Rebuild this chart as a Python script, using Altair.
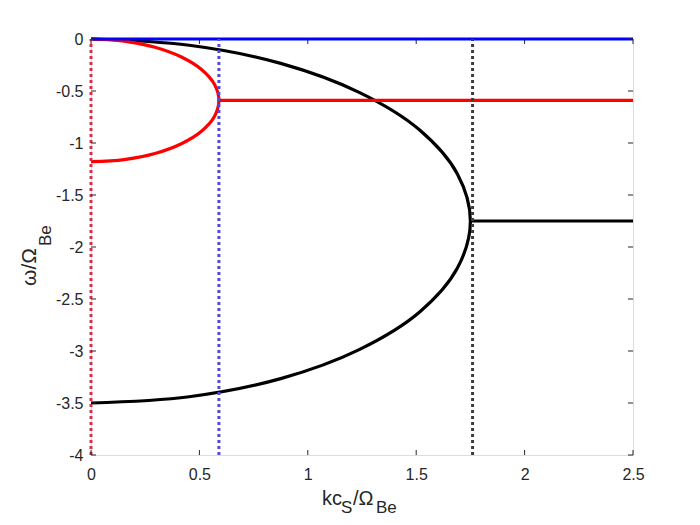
import altair as alt
import pandas as pd

# ---- data ----
# black branch: upper and lower halves joined at the turning point (k, omega)
black_k = [0, 0.453, 0.875, 1.237, 1.516, 1.690, 1.75, 1.690, 1.516, 1.237, 0.875, 0.453, 0]
black_w = [0, -0.060, -0.234, -0.513, -0.875, -1.297, -1.75, -2.203, -2.625, -2.987, -3.266, -3.440, -3.5]
black_flat_k = [1.75, 2.5]
black_flat_w = [-1.75, -1.75]

# red branch
red_k = [0, 0.153, 0.295, 0.417, 0.511, 0.570, 0.59, 0.570, 0.511, 0.417, 0.295, 0.153, 0]
red_w = [0, -0.020, -0.079, -0.173, -0.295, -0.437, -0.59, -0.743, -0.885, -1.007, -1.101, -1.160, -1.18]
red_flat_k = [0.59, 2.5]
red_flat_w = [-0.59, -0.59]

# blue branch
blue_k = [0, 2.5]
blue_w = [0, 0]

# dotted vertical markers
vline_k = [0, 0.59, 1.76]
vline_names = ["red", "blue", "black"]
vline_colors = ["#d3304c", "#5248e0", "#3c3c3c"]

x_ticks = [0, 0.5, 1, 1.5, 2, 2.5]
y_ticks = [0, -0.5, -1, -1.5, -2, -2.5, -3, -3.5, -4]

W, H = 542, 416
AX = "#262626"
FONT = "Liberation Sans"

xs = alt.Scale(domain=[0, 2.5], nice=False, zero=False)
ys = alt.Scale(domain=[-4, 0], nice=False, zero=False)
xaxis = alt.Axis(values=x_ticks, title=None, grid=False, ticks=False, domain=False,
                 labelFont=FONT, labelFontSize=16, labelColor=AX, labelPadding=11,
                 labelExpr="'' + datum.value", labelFlush=False, labelOverlap=False)
yaxis = alt.Axis(values=y_ticks, title=None, grid=False, ticks=False, domain=False,
                 labelFont=FONT, labelFontSize=16, labelColor=AX, labelPadding=8,
                 labelExpr="'' + datum.value", labelFlush=False, labelOverlap=False)

def path_df(k, w):
    return pd.DataFrame({"k": k, "w": w, "i": list(range(len(k)))})

def curve(k, w, color, interp="linear"):
    return alt.Chart(path_df(k, w)).mark_line(
        color=color, strokeWidth=3.2, interpolate=interp
    ).encode(
        x=alt.X("k:Q", scale=xs, axis=xaxis),
        y=alt.Y("w:Q", scale=ys, axis=yaxis),
        order=alt.Order("i:Q"),
    )

layers = [
    curve(black_k, black_w, "#000000", "catmull-rom"),
    curve(black_flat_k, black_flat_w, "#000000"),
    curve(red_k, red_w, "#ff0000", "catmull-rom"),
    curve(red_flat_k, red_flat_w, "#ff0000"),
    curve(blue_k, blue_w, "#0000ff"),
]

vdf = pd.DataFrame({"k": vline_k, "name": vline_names,
                    "lo": [-4] * 3, "hi": [0] * 3})
layers.append(
    alt.Chart(vdf).mark_rule(strokeWidth=3, strokeDash=[3, 3]).encode(
        x=alt.X("k:Q", scale=xs, axis=xaxis),
        y=alt.Y("lo:Q", scale=ys, axis=yaxis),
        y2="hi:Q",
        color=alt.Color("name:N", scale=alt.Scale(domain=vline_names, range=vline_colors),
                        legend=None),
    )
)

# inward ticks on all four sides (box style)
xt = pd.DataFrame({"k": x_ticks})
yt = pd.DataFrame({"w": y_ticks})
for y0, y1 in [(H, H - 5), (0, 5)]:
    layers.append(alt.Chart(xt).mark_rule(color=AX, strokeWidth=1).encode(
        x=alt.X("k:Q", scale=xs, axis=xaxis), y=alt.value(y0), y2=alt.value(y1)))
for x0, x1 in [(0, 5), (W, W - 5)]:
    layers.append(alt.Chart(yt).mark_rule(color=AX, strokeWidth=1).encode(
        y=alt.Y("w:Q", scale=ys, axis=yaxis), x=alt.value(x0), x2=alt.value(x1)))

# axis titles with subscripts
one = alt.Data(values=[{"a": 1}])
def txt(s, x, y, size, angle=0):
    kw = dict(align="left", baseline="alphabetic", font=FONT, fontSize=size, color=AX)
    if angle:
        kw["angle"] = angle
    return alt.Chart(one).mark_text(**kw).encode(
        x=alt.value(x), y=alt.value(y), text=alt.value(s))

layers += [
    txt("kc", 231, 466, 20),
    txt("S", 250, 474, 17),
    txt("/Ω", 262, 466, 20),
    txt("Be", 285, 474, 17),
    txt("ω/Ω", -55, 247, 21, 270),
    txt("Be", -40, 207, 17, 270),
]

chart = alt.layer(*layers).properties(
    width=W, height=H,
    autosize=alt.AutoSizeParams(type="none"),
    padding={"left": 83, "top": 31, "right": 55, "bottom": 62},
).configure_view(stroke=AX, strokeWidth=1).configure(background="white")

chart.save("out.html", embed_options={"renderer": "svg", "actions": False})
